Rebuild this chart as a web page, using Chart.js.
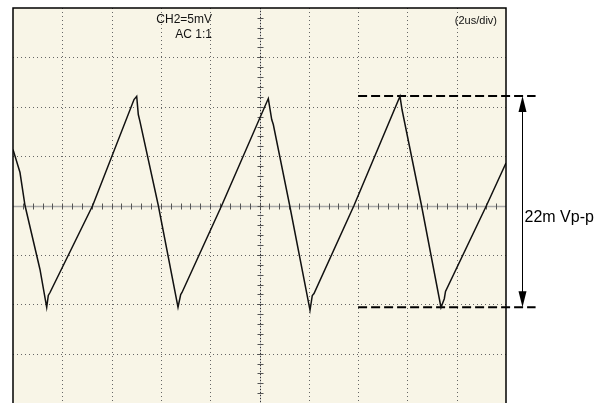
<!DOCTYPE html>
<html>
<head>
<meta charset="utf-8">
<script src="https://cdn.jsdelivr.net/npm/chart.js@4.4.1/dist/chart.umd.min.js"></script>
<style>
    body { margin: 0; background: #ffffff; }
    #wrap { width: 603px; height: 403px; position: relative; }
</style>
</head>
<body>
<div id="wrap"><canvas id="scopeChart"></canvas></div>
<script>
// trace, time in us, volts in mV
const traceTime = [0, 0.284, 0.487, 1.095, 1.367, 1.432, 1.501, 3.233, 4.909, 5.018, 5.083, 5.152, 5.895,
    6.694, 6.803, 6.856, 8.467, 10.357, 10.495, 10.560, 11.225, 12.049, 12.142, 12.211, 13.834,
    15.700, 15.781, 16.572, 17.363, 17.497, 17.546, 19.209, 20.0];
const traceVolts = [5.67, 3.34, 0, -6.48, -10.32, -9.11, -8.81, 0, 10.73, 11.06, 9.21, 8.50, 0,
    -10.29, -9.01, -8.81, 0, 10.83, 8.70, 8.20, 0, -10.60, -9.11, -8.91, 0,
    11.06, 9.72, 0, -10.32, -9.44, -8.70, 0, 4.3];

// peak / trough marker lines
const markerTime = [14.0, 21.2];
const peakLevel = 11.1;
const troughLevel = -10.3;
const arrowTime = 20.64;

// screen settings
const timePerDiv = 2;   // us
const voltsPerDiv = 5;  // mV
const divsX = 10;
const divsY = 8;

const labelChannel = 'CH2=5mV';
const labelCoupling = 'AC 1:1';
const labelTimebase = '(2us/div)';
const labelVpp = '22m Vp-p';

const tracePoints = traceTime.map((t, i) => ({ x: t, y: traceVolts[i] }));
const peakPoints = markerTime.map(t => ({ x: t, y: peakLevel }));
const troughPoints = markerTime.map(t => ({ x: t, y: troughLevel }));

const FONT = '"Liberation Sans", Arial, Helvetica, sans-serif';

// screen background, graticule, center ticks
const graticule = {
    id: 'graticule',
    beforeDatasetsDraw(chart) {
        const { ctx, chartArea: a, scales: { x, y } } = chart;
        ctx.save();
        ctx.fillStyle = '#f8f5e7';
        ctx.fillRect(a.left, a.top, a.right - a.left, a.bottom - a.top);

        // dotted grid
        ctx.strokeStyle = '#666666';
        ctx.lineWidth = 1;
        ctx.setLineDash([1, 3]);
        for (let i = 1; i < divsX; i++) {
            if (i === divsX / 2) continue;
            const px = Math.round(x.getPixelForValue(i * timePerDiv)) + 0.5;
            ctx.beginPath(); ctx.moveTo(px, a.top); ctx.lineTo(px, a.bottom); ctx.stroke();
        }
        for (let j = 1; j < divsY; j++) {
            if (j === divsY / 2) continue;
            const py = Math.round(y.getPixelForValue(-20 + j * voltsPerDiv)) + 0.5;
            ctx.beginPath(); ctx.moveTo(a.left, py); ctx.lineTo(a.right, py); ctx.stroke();
        }
        ctx.setLineDash([]);

        // center cross
        const cx = Math.round(x.getPixelForValue(10)) + 0.5;
        const cy = Math.round(y.getPixelForValue(0)) + 0.5;
        ctx.strokeStyle = '#a8a8a8';
        ctx.lineWidth = 1.5;
        ctx.beginPath(); ctx.moveTo(a.left, cy); ctx.lineTo(a.right, cy); ctx.stroke();
        ctx.lineWidth = 1;
        ctx.strokeStyle = '#c4c4c4';
        ctx.beginPath(); ctx.moveTo(cx, a.top); ctx.lineTo(cx, a.bottom); ctx.stroke();
        ctx.strokeStyle = '#333333';
        ctx.setLineDash([1, 2]);
        ctx.beginPath(); ctx.moveTo(cx, a.top); ctx.lineTo(cx, a.bottom); ctx.stroke();
        ctx.setLineDash([]);

        // minor ticks, 5 per division
        ctx.strokeStyle = '#555555';
        ctx.lineWidth = 1;
        for (let i = 1; i < divsX * 5; i++) {
            const px = Math.round(x.getPixelForValue(i * timePerDiv / 5)) + 0.5;
            ctx.beginPath(); ctx.moveTo(px, cy - 3); ctx.lineTo(px, cy + 3); ctx.stroke();
        }
        for (let j = 1; j < divsY * 5; j++) {
            const py = Math.round(y.getPixelForValue(-20 + j * voltsPerDiv / 5)) + 0.5;
            ctx.beginPath(); ctx.moveTo(cx - 3, py); ctx.lineTo(cx + 3, py); ctx.stroke();
        }
        ctx.restore();
    },
    afterDraw(chart) {
        const { ctx, chartArea: a, scales: { x, y } } = chart;
        ctx.save();
        // screen frame (bottom edge sits below the window)
        ctx.strokeStyle = '#000000';
        ctx.lineWidth = 1.5;
        ctx.beginPath();
        ctx.moveTo(a.left, a.bottom + 2);
        ctx.lineTo(a.left, a.top);
        ctx.lineTo(a.right, a.top);
        ctx.lineTo(a.right, a.bottom + 2);
        ctx.stroke();

        // labels
        ctx.fillStyle = '#111111';
        ctx.font = '12px ' + FONT;
        ctx.textAlign = 'right';
        ctx.textBaseline = 'alphabetic';
        ctx.fillText(labelChannel, 212, 23);
        ctx.fillText(labelCoupling, 212, 38);
        ctx.font = '11px ' + FONT;
        ctx.fillText(labelTimebase, 497, 24);

        // double arrow between the marker lines
        const ax = Math.round(x.getPixelForValue(arrowTime)) + 0.5;
        const top = y.getPixelForValue(peakLevel);
        const bot = y.getPixelForValue(troughLevel);
        ctx.strokeStyle = '#000000';
        ctx.lineWidth = 1;
        ctx.beginPath(); ctx.moveTo(ax, top + 10); ctx.lineTo(ax, bot - 10); ctx.stroke();
        ctx.fillStyle = '#000000';
        ctx.beginPath(); ctx.moveTo(ax, top); ctx.lineTo(ax - 4, top + 16); ctx.lineTo(ax + 4, top + 16); ctx.closePath(); ctx.fill();
        ctx.beginPath(); ctx.moveTo(ax, bot); ctx.lineTo(ax - 4, bot - 16); ctx.lineTo(ax + 4, bot - 16); ctx.closePath(); ctx.fill();

        ctx.font = '16px ' + FONT;
        ctx.textAlign = 'left';
        ctx.fillText(labelVpp, ax + 2, 222);
        ctx.restore();
    }
};

const ctx = document.getElementById('scopeChart').getContext('2d');

const scopeChart = new Chart(ctx, {
    type: 'line',
    data: {
        datasets: [{
            data: tracePoints,
            borderColor: '#111111',
            borderWidth: 1.5,
            pointRadius: 0,
            tension: 0,
        }, {
            // dashed peak marker
            data: peakPoints,
            borderColor: '#000000',
            borderWidth: 2,
            borderDash: [9, 4],
            pointRadius: 0,
            clip: false,
        }, {
            // dashed trough marker
            data: troughPoints,
            borderColor: '#000000',
            borderWidth: 2,
            borderDash: [9, 4],
            pointRadius: 0,
            clip: false,
        }]
    },
    options: {
        responsive: true,
        maintainAspectRatio: false,
        animation: false,
        layout: { padding: { left: 13, top: 8, right: 97, bottom: 0 } },
        plugins: {
            legend: { display: false },
            tooltip: { enabled: false }
        },
        scales: {
            x: { type: 'linear', min: 0, max: divsX * timePerDiv, display: false },
            y: { type: 'linear', min: -20, max: 20, display: false }
        }
    },
    plugins: [graticule]
});
</script>
</body>
</html>
